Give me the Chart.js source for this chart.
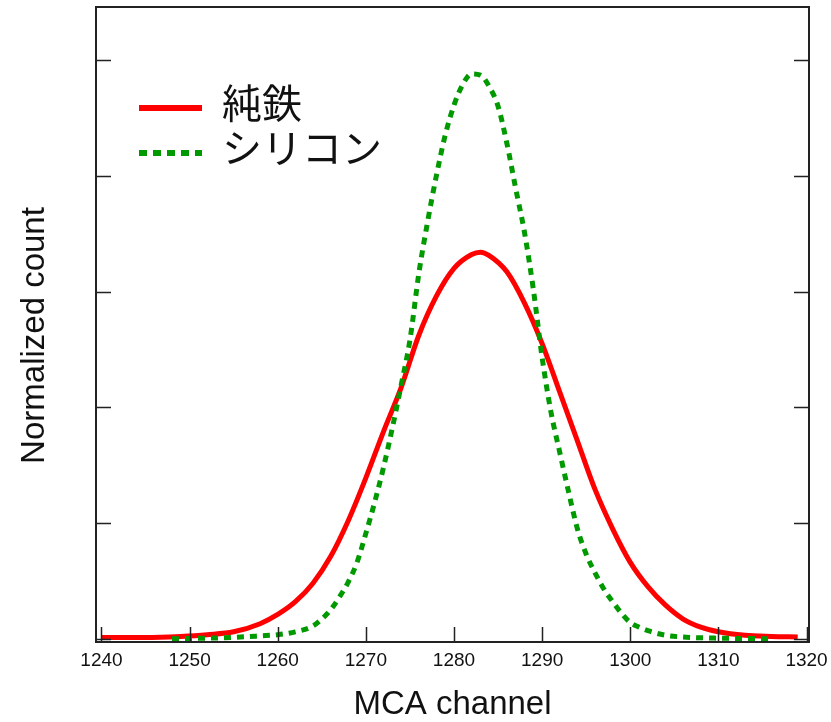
<!DOCTYPE html>
<html>
<head>
<meta charset="utf-8">
<title>MCA channel</title>
<script src="https://cdn.jsdelivr.net/npm/chart.js@4.4.1/dist/chart.umd.min.js"></script>
<style>
  html, body { margin: 0; padding: 0; background: #fff; }
  #wrap { position: relative; width: 831px; height: 722px; }
</style>
</head>
<body>
<div id="wrap"><canvas id="chart"></canvas></div>
<script>
/* ── data ── */
const ironLabel = '純鉄';
const ironChannels = [1240, 1245, 1249, 1252, 1255, 1258, 1260, 1262, 1264, 1266, 1268, 1270,
                      1272, 1274, 1276, 1278, 1280, 1282, 1283, 1284, 1286, 1288, 1290, 1292,
                      1294, 1296, 1298, 1300, 1302, 1304, 1306, 1308, 1310, 1313, 1316, 1319];
const ironCounts   = [0.01, 0.01, 0.02, 0.035, 0.06, 0.13, 0.21, 0.32, 0.48, 0.71, 1.02, 1.39,
                      1.79, 2.17, 2.62, 2.96, 3.20, 3.32, 3.34, 3.31, 3.17, 2.90, 2.55, 2.13,
                      1.71, 1.29, 0.95, 0.66, 0.45, 0.29, 0.17, 0.10, 0.06, 0.03, 0.02, 0.015];

const siliconLabel = 'シリコン';
const siliconChannels = [1248, 1252, 1255, 1258, 1260, 1262, 1264, 1265, 1266, 1267, 1268,
                         1269, 1270, 1271, 1272, 1273, 1274, 1275, 1276, 1277, 1278, 1279, 1280,
                         1281, 1282, 1283, 1284, 1285, 1286, 1287, 1288, 1289, 1290, 1291, 1292,
                         1293, 1294, 1295, 1296, 1297, 1298, 1299, 1300, 1301, 1302, 1304, 1306,
                         1310, 1316];
const siliconCounts   = [0.0, 0.005, 0.012, 0.025, 0.035, 0.06, 0.11, 0.17, 0.25, 0.36, 0.49,
                         0.66, 0.91, 1.18, 1.48, 1.82, 2.19, 2.58, 3.15, 3.60, 4.00, 4.35, 4.61,
                         4.79, 4.88, 4.87, 4.77, 4.60, 4.28, 3.89, 3.51, 3.02, 2.43, 1.96, 1.61,
                         1.27, 0.95, 0.73, 0.57, 0.43, 0.32, 0.22, 0.14, 0.10, 0.07, 0.03, 0.015,
                         0.005, 0.0];

const xTicks = [1240, 1250, 1260, 1270, 1280, 1290, 1300, 1310, 1320];
const yTicks = [0, 1, 2, 3, 4, 5];
const yTitle = 'Normalized count';

const SANS = "'Liberation Sans', Helvetica, Arial, sans-serif";
const INK  = '#111';

/* ── frame + inward tick marks + y title (sits a bit below centre) ── */
const frame = {
  id: 'frame',
  afterDatasetsDraw(chart) {
    const { ctx, chartArea: a, scales: { x, y } } = chart;
    ctx.save();
    ctx.strokeStyle = '#222';
    ctx.lineWidth = 1.5;
    ctx.beginPath();
    x.ticks.forEach(t => {
      const px = Math.round(x.getPixelForValue(t.value)) + 0.5;
      ctx.moveTo(px, a.bottom);
      ctx.lineTo(px, a.bottom - 15);
    });
    y.ticks.forEach(t => {
      const py = Math.round(y.getPixelForValue(t.value)) + 0.5;
      ctx.moveTo(a.left, py);  ctx.lineTo(a.left + 15, py);
      ctx.moveTo(a.right, py); ctx.lineTo(a.right - 15, py);
    });
    ctx.stroke();
    ctx.lineWidth = 2;
    ctx.strokeRect(a.left, a.top, a.right - a.left, a.bottom - a.top);

    // y axis title
    ctx.translate(35, (a.top + a.bottom) / 2 + 11);
    ctx.rotate(-Math.PI / 2);
    ctx.fillStyle = INK;
    ctx.font = '33px ' + SANS;
    ctx.textAlign = 'center';
    ctx.textBaseline = 'middle';
    ctx.fillText(yTitle, 0, 0);
    ctx.restore();
  }
};

/* ── legend drawn inside the plot, top-left ── */
const inlineLegend = {
  id: 'inlineLegend',
  afterDraw(chart) {
    const { ctx, chartArea: a } = chart;
    ctx.save();
    chart.data.datasets.forEach((ds, i) => {
      const y = a.top + 101 + i * 45;
      ctx.beginPath();
      ctx.strokeStyle = ds.borderColor;
      ctx.lineWidth = ds.borderWidth + 1;
      ctx.lineCap = 'butt';
      ctx.setLineDash(ds.legendDash || []);
      ctx.moveTo(a.left + 43, y);
      ctx.lineTo(a.left + 106, y);
      ctx.stroke();
      ctx.setLineDash([]);
      ctx.fillStyle = INK;
      ctx.font = '40px "Noto Sans CJK JP", sans-serif';
      ctx.textBaseline = 'middle';
      ctx.fillText(ds.label, a.left + 126, y - 5);
    });
    ctx.restore();
  }
};

const pts = (xs, ys) => xs.map((c, i) => ({ x: c, y: ys[i] }));

new Chart(document.getElementById('chart'), {
  type: 'line',
  data: {
    datasets: [
      {
        label: ironLabel,
        data: pts(ironChannels, ironCounts),
        borderColor: '#ff0000',
        borderWidth: 5,
        pointRadius: 0,
        cubicInterpolationMode: 'monotone',
        fill: false,
        order: 2
      },
      {
        label: siliconLabel,
        data: pts(siliconChannels, siliconCounts),
        borderColor: '#009900',
        borderWidth: 5,
        borderDash: [7, 6],
        legendDash: [8, 6],
        pointRadius: 0,
        cubicInterpolationMode: 'monotone',
        fill: false,
        order: 1
      }
    ]
  },
  options: {
    responsive: true,
    maintainAspectRatio: false,
    animation: false,
    layout: { padding: { top: 7, right: 22, left: 0, bottom: 0 } },
    plugins: {
      legend: { display: false },
      tooltip: { enabled: false }
    },
    scales: {
      x: {
        type: 'linear',
        min: 1239.38,
        max: 1320.28,
        afterBuildTicks: s => { s.ticks = xTicks.map(v => ({ value: v })); },
        afterFit: s => { s.height = 80; s.paddingLeft = 0; s.paddingRight = 0; },
        grid: { display: false, drawTicks: false },
        border: { display: false },
        ticks: {
          color: INK,
          font: { family: SANS, size: 19 },
          padding: 7,
          maxRotation: 0,
          autoSkip: false,
          callback: v => String(v)
        },
        title: {
          display: true,
          text: 'MCA channel',
          color: INK,
          font: { family: SANS, size: 33, lineHeight: 1 },
          padding: { top: 0, bottom: 0.5 }
        }
      },
      y: {
        min: -0.028,
        max: 5.458,
        afterBuildTicks: s => { s.ticks = yTicks.map(v => ({ value: v })); },
        afterFit: s => { s.width = 96; s.paddingTop = 0; s.paddingBottom = 0; },
        grid: { display: false, drawTicks: false },
        border: { display: false },
        ticks: { display: false },
        title: { display: false }
      }
    }
  },
  plugins: [frame, inlineLegend]
});
</script>
</body>
</html>
